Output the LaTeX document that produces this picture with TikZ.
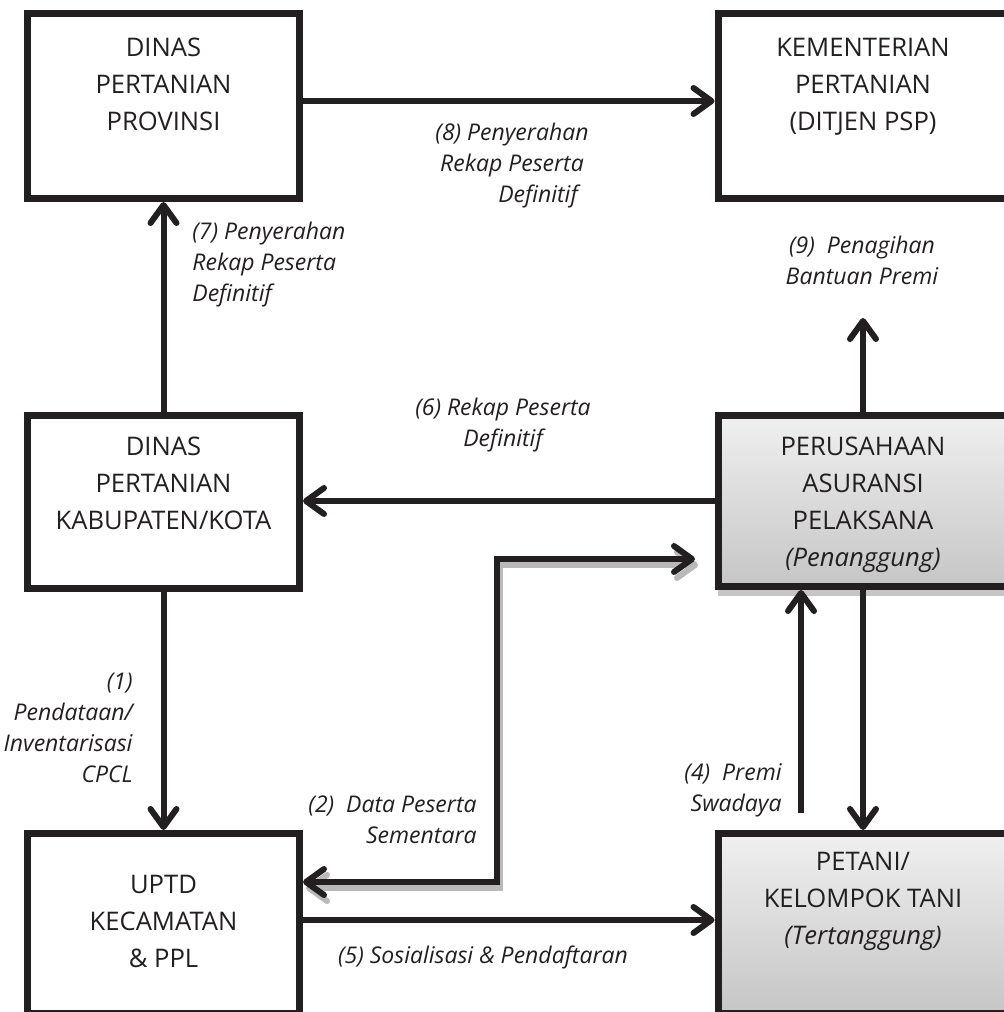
\documentclass[tikz,border=0pt]{standalone}
\usepackage{fontspec}
\setmainfont{Open Sans}
\usepackage{xcolor}
\usepackage{tikz}
\usetikzlibrary{arrows.meta,shadows}
\definecolor{ink}{HTML}{231F20}

\begin{document}
\begin{tikzpicture}[
    x=0.5pt, y=-0.5pt,
    >={Straight Barb[length=9pt, width=13pt, round]},
    box/.style={draw=ink, line width=3.5pt, inner sep=0pt, minimum width=136pt, minimum height=92.5pt, fill=white},
    graybox/.style={box, minimum width=145pt, top color=gray!12, bottom color=gray!45,
        drop shadow={shadow xshift=0pt, shadow yshift=-4.5pt, opacity=0.45}},
    boxtext/.style={align=center, inner sep=0pt, text=ink, font=\fontsize{12.8}{18.5}\selectfont},
    note/.style={inner sep=0pt, text=ink, font=\fontsize{11.5}{15.5}\selectfont\itshape},
    arrow/.style={draw=ink, line width=3pt, ->},
    shadowed/.style={preaction={draw=gray!55, line width=3pt, transform canvas={shift={(1.5pt,-3pt)}}}}
]
    \useasboundingbox (0,0) rectangle (1003,1012);

    \node[box] (prov) at (163.5,106) {};
    \node[box, minimum width=145pt] (kemen) at (863,106) {};
    \node[box, minimum height=86.5pt] (kab) at (163.5,502) {};
    \node[graybox, minimum height=85.5pt] (asur) at (863,501) {};
    \node[box, minimum height=90pt] (uptd) at (163.5,923.5) {};
    \node[graybox, minimum height=90pt] (petani) at (863,923.5) {};

    \node[boxtext, anchor=north] (provtxt) at (163.5,38) {DINAS\\PERTANIAN\\PROVINSI};
    \node[boxtext, anchor=north] (kementxt) at (863,38) {KEMENTERIAN\\PERTANIAN\\(DITJEN PSP)};
    \node[boxtext, anchor=north] (kabtxt) at (163.5,437) {DINAS\\PERTANIAN\\KABUPATEN/KOTA};
    \node[boxtext, anchor=north] (asurtxt) at (863,437) {PERUSAHAAN\\ASURANSI\\PELAKSANA\\\textit{(Penanggung)}};
    \node[boxtext, anchor=north] (uptdtxt) at (163.5,875) {UPTD\\KECAMATAN\\\& PPL};
    \node[boxtext, anchor=north] (petanitxt) at (863,852) {PETANI/\\KELOMPOK TANI\\\textit{(Tertanggung)}};

    \node[note, align=right, anchor=north east] (pendataan) at (133,673) {(1)\\Pendataan/\\Inventarisasi\\CPCL};
    \node[note, align=right, anchor=north east] (sementara) at (477,795) {(2)~ Data Peserta\\Sementara};
    \node[note, align=right, anchor=north east] (premi) at (782,763) {(4)~ Premi\\Swadaya};
    \node[note, align=center, anchor=north] (sosialisasi) at (483,945) {(5) Sosialisasi \& Pendaftaran};
    \node[note, align=center, anchor=north] (rekapkab) at (503,398) {(6) Rekap Peserta\\Definitif};
    \node[note, align=left, anchor=north west] (rekapprov) at (192,222) {(7) Penyerahan\\Rekap Peserta\\Definitif};
    \node[note, align=center, anchor=north] (rekappsp) at (512,123) {(8) Penyerahan\\Rekap Peserta\\\hspace*{26pt}Definitif};
    \node[note, align=center, anchor=north] (penagihan) at (862,236) {(9)~ Penagihan\\Bantuan Premi};

    \coordinate (tagihan) at (863,318);
    \coordinate (swadaya) at (801,813);
    \coordinate (dataup) at (497,559);
    \coordinate (datalow) at (497,882);
    \coordinate (datatip) at (695,559);

    \draw[arrow] ([yshift=2.5pt]prov.east) -- ([yshift=2.5pt]kemen.west);
    \draw[arrow] (kab.north) -- (prov.south);
    \draw[arrow] (kab.south) -- (uptd.north);
    \draw[arrow] (asur.west) -- (asur.west -| kab.east);
    \draw[arrow] (asur.north) -- (tagihan);
    \draw[arrow] (asur.south) -- (petani.north);
    \draw[arrow] (swadaya) -- (swadaya |- asur.south);
    \draw[arrow] ([yshift=1.75pt]uptd.east) -- ([yshift=1.75pt]uptd.east -| petani.west);
    \draw[arrow, shadowed, <->] (uptd.east |- datalow) -- (datalow) -- (dataup) -- (datatip);
\end{tikzpicture}
\end{document}
